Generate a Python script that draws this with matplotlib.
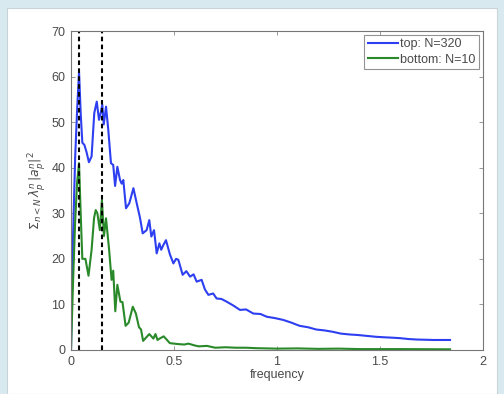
import matplotlib
matplotlib.use("Agg")
import matplotlib.pyplot as plt
from matplotlib.patches import Rectangle

# values
top_x = [0, 0.01, 0.02, 0.03, 0.039, 0.047, 0.055, 0.065, 0.075, 0.087, 0.1, 0.113,
         0.125, 0.136, 0.144, 0.152, 0.159, 0.17, 0.181, 0.194, 0.205, 0.214, 0.225,
         0.238, 0.246, 0.254, 0.267, 0.283, 0.303, 0.319, 0.335, 0.348, 0.367, 0.38,
         0.39, 0.403, 0.416, 0.429, 0.438, 0.448, 0.461, 0.48, 0.497, 0.51, 0.521,
         0.542, 0.56, 0.578, 0.595, 0.61, 0.634, 0.65, 0.667, 0.69, 0.707, 0.73, 0.756,
         0.79, 0.82, 0.85, 0.885, 0.92, 0.95, 0.99, 1.03, 1.07, 1.11, 1.15, 1.19, 1.23,
         1.27, 1.31, 1.354, 1.39, 1.435, 1.48, 1.516, 1.56, 1.597, 1.64, 1.678, 1.72,
         1.759, 1.8, 1.84]
top_y = [0, 25, 42, 53, 61, 52, 45.5, 45, 43.5, 41.2, 42.5, 52, 54.5, 50.5, 52, 53.8,
         49.5, 53.4, 48.3, 41, 40.6, 36, 40.2, 37.3, 36.5, 37.3, 31.1, 32.2, 35.5, 32.2,
         29, 25.6, 26.3, 28.5, 24.9, 26.3, 21.2, 23.4, 22, 23, 24.1, 21, 19, 20, 19.8,
         16.5, 17.3, 16.1, 16.6, 15, 15.4, 13.3, 12.1, 12.4, 11.3, 11.2, 10.6, 9.7, 8.8,
         8.9, 8, 7.9, 7.3, 7.0, 6.6, 6.0, 5.3, 5.0, 4.5, 4.3, 4.0, 3.6, 3.4, 3.3, 3.1,
         2.9, 2.8, 2.7, 2.6, 2.4, 2.3, 2.25, 2.2, 2.2, 2.2]

bottom_x = [0, 0.01, 0.02, 0.03, 0.039, 0.047, 0.055, 0.07, 0.085, 0.1, 0.112, 0.12,
            0.128, 0.14, 0.15, 0.16, 0.17, 0.185, 0.197, 0.205, 0.215, 0.225, 0.24,
            0.25, 0.265, 0.28, 0.3, 0.315, 0.33, 0.34, 0.35, 0.36, 0.37, 0.38, 0.39,
            0.4, 0.41, 0.42, 0.43, 0.45, 0.48, 0.52, 0.55, 0.57, 0.6, 0.62, 0.66, 0.7,
            0.75, 0.8, 0.85, 0.9, 1.0, 1.1, 1.2, 1.3, 1.4, 1.5, 1.6, 1.7, 1.84]
bottom_y = [0, 15, 28, 37, 41, 30, 20, 20, 16.3, 22, 29, 30.7, 30, 26.3, 32.9, 25, 28.9,
            22, 15.4, 17.4, 8.5, 14.3, 10.6, 10.5, 5.3, 6, 9.5, 8, 5, 4.5, 2, 2.5, 3,
            3.5, 3, 2.5, 3.5, 2.2, 2.5, 3, 1.5, 1.3, 1.2, 1.4, 1.0, 0.8, 0.9, 0.5, 0.6,
            0.5, 0.5, 0.4, 0.3, 0.35, 0.25, 0.3, 0.2, 0.2, 0.2, 0.18, 0.15]

marker_freqs = [0.04, 0.15]
x_ticks = [0, 0.5, 1, 1.5, 2]
x_tick_labels = ["0", "0.5", "1", "1.5", "2"]
y_ticks = [0, 10, 20, 30, 40, 50, 60, 70]

plt.rcParams["font.family"] = ["Liberation Sans", "DejaVu Sans"]
text_color = "#4a4a4a"

fig = plt.figure(figsize=(5.04, 3.94), dpi=100, facecolor="#d8eaf0")
# white panel of the screenshot, kept behind the axes
panel = Rectangle((7 / 504, 0), 490 / 504, 386 / 394, transform=fig.transFigure,
                  facecolor="white", edgecolor="#c8d4d8", linewidth=0.8, zorder=-10)
fig.patches.append(panel)

ax = fig.add_axes([71 / 504, 44 / 394, 412 / 504, 319 / 394])
ax.set_zorder(5)
ax.plot(top_x, top_y, color="#2d3ff0", linewidth=1.5, label="top: N=320")
ax.plot(bottom_x, bottom_y, color="#2a8a2a", linewidth=1.5, label="bottom: N=10")
for f in marker_freqs:
    ax.axvline(f, color="black", linestyle=(0, (2.2, 1.6)), linewidth=1.5)

ax.set_xlim(0, 2)
ax.set_ylim(0, 70)
ax.set_xticks(x_ticks)
ax.set_xticklabels(x_tick_labels)
ax.set_yticks(y_ticks)
ax.tick_params(direction="in", top=True, right=True, length=3, width=0.6,
               colors="#888888", labelcolor=text_color, labelsize=9, pad=4)
for s in ax.spines.values():
    s.set_color("#777777")
    s.set_linewidth(0.8)

ax.set_xlabel("frequency", fontsize=9, color=text_color, labelpad=1)
ax.set_ylabel(r"$\Sigma_{n<N}\,\lambda_p^n\,|a_p^n|^2$", fontsize=9, color=text_color,
              labelpad=2)

leg = ax.legend(loc="upper right", fontsize=9, frameon=True, fancybox=False,
                handlelength=2.4, handletextpad=0.2, borderpad=0.3, labelspacing=0.25,
                borderaxespad=0.3)
leg.get_frame().set_edgecolor("#777777")
leg.get_frame().set_linewidth(0.8)
for t in leg.get_texts():
    t.set_color(text_color)

fig.savefig("out.png", dpi=100, facecolor=fig.get_facecolor())
